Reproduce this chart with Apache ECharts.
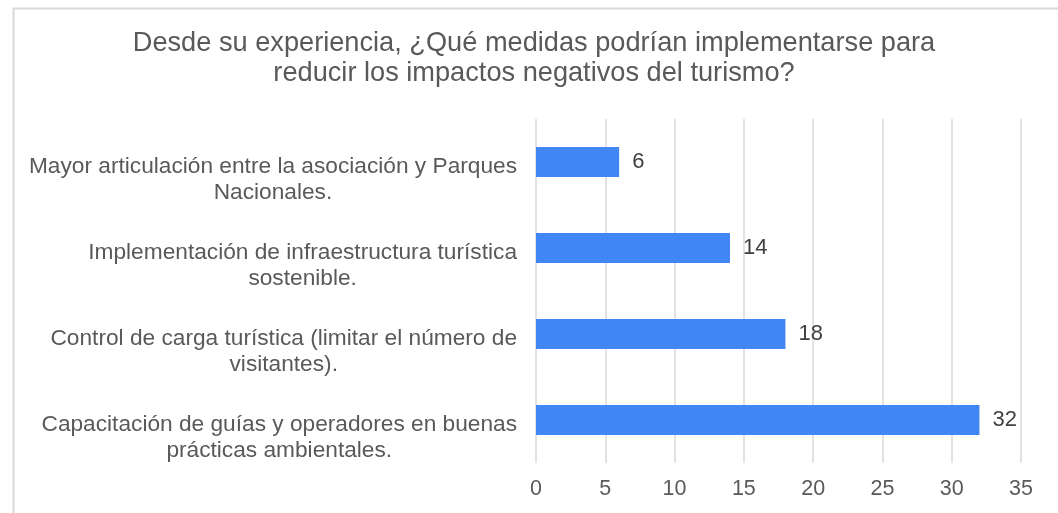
<!DOCTYPE html>
<html>
<head>
<meta charset="utf-8">
<script src="https://cdn.jsdelivr.net/npm/echarts@6/dist/echarts.min.js"></script>
<style>
html,body{margin:0;padding:0;background:#fff;}
#c{width:1058px;height:513px;}
</style>
</head>
<body>
<div id="c"></div>
<script>
const titleText = "Desde su experiencia, ¿Qué medidas podrían implementarse para\nreducir los impactos negativos del turismo?";
const categories = [
  "Mayor articulación entre la asociación y Parques\nNacionales.",
  "Implementación de infraestructura turística\nsostenible.",
  "Control de carga turística (limitar el número de\nvisitantes).",
  "Capacitación de guías y operadores en buenas\nprácticas ambientales."
];
const values = [6, 14, 18, 32];
const xTicks = { min: 0, max: 35, interval: 5 };

const chart = echarts.init(document.getElementById('c'), null, { renderer: 'canvas' });
const font = 'Liberation Sans, Arial, sans-serif';
chart.setOption({
  backgroundColor: '#fff',
  animation: false,
  graphic: [{
    type: 'rect', left: 11, top: 6, silent: true,
    shape: { width: 1200, height: 600 },
    style: { fill: 'none', stroke: '#d9d9d9', lineWidth: 2 }
  }],
  title: {
    text: titleText,
    left: 529,
    textAlign: 'center',
    top: 24,
    textStyle: { fontFamily: font, fontSize: 27.2, fontWeight: 'normal', color: '#595959', lineHeight: 30 }
  },
  grid: { left: 536, right: 37, top: 119, bottom: 50, containLabel: false },
  xAxis: {
    type: 'value',
    min: xTicks.min, max: xTicks.max, interval: xTicks.interval,
    axisLine: { show: false },
    axisTick: { show: false },
    splitLine: { show: true, lineStyle: { color: '#d9d9d9', width: 1.5 } },
    axisLabel: { fontFamily: font, fontSize: 21.5, color: '#595959', margin: 15 }
  },
  yAxis: {
    type: 'category',
    inverse: true,
    data: categories,
    axisLine: { show: false },
    axisTick: { show: false },
    axisLabel: {
      margin: 19,
      padding: [35, 0, 0, 0],
      fontFamily: font, fontSize: 22.7, color: '#595959', lineHeight: 25.5,
      formatter: function (v) { return v.split('\n').map(l => '{c|' + l + '}').join('\n'); },
      rich: { c: { align: 'center', fontFamily: font, fontSize: 22.7, color: '#595959', lineHeight: 25.5 } }
    }
  },
  series: [{
    type: 'bar',
    data: values,
    barWidth: 30,
    itemStyle: { color: '#4285F4' },
    label: { show: true, position: 'right', distance: 13, fontFamily: font, fontSize: 22, color: '#404040' }
  }]
});
</script>
</body>
</html>
